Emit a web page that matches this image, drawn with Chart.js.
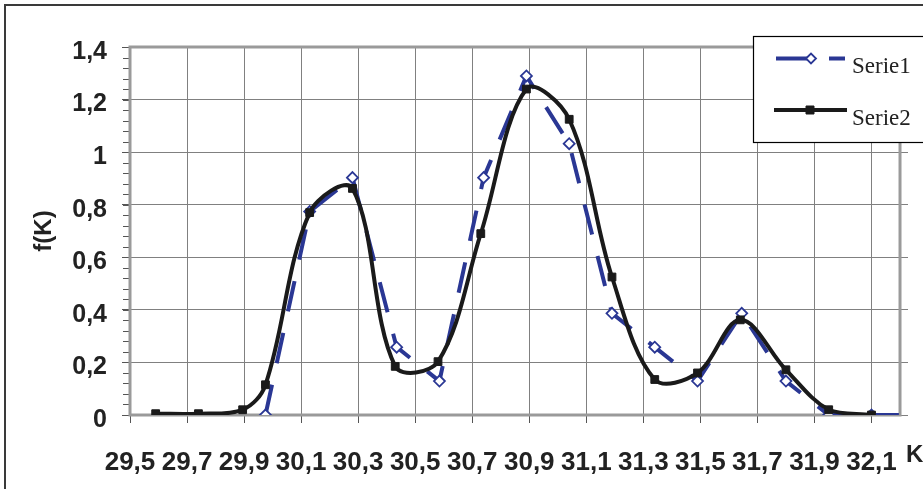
<!DOCTYPE html>
<html>
<head>
<meta charset="utf-8">
<script src="https://cdn.jsdelivr.net/npm/chart.js@4.4.0/dist/chart.umd.min.js"></script>
<style>
  html, body { margin: 0; padding: 0; background: #fff; }
</style>
</head>
<body>
<canvas id="grafico" width="923" height="489"></canvas>
<script>
// ================================
// Dados
// ================================
const nomesSeries = ["Serie1", "Serie2"]

const serie1X = [29.975, 30.13, 30.28, 30.435, 30.585, 30.74, 30.89, 31.04, 31.19, 31.34, 31.49, 31.645, 31.8, 31.95, 32.1, 32.25]
const serie1Y = [0, 0.774, 0.903, 0.258, 0.129, 0.903, 1.29, 1.032, 0.387, 0.258, 0.129, 0.387, 0.129, 0, 0, 0]

const serie2X = [29.59, 29.74, 29.895, 29.975, 30.13, 30.28, 30.43, 30.58, 30.73, 30.89, 31.04, 31.19, 31.34, 31.49, 31.64, 31.8, 31.95, 32.1]
const serie2Y = [0.005, 0.005, 0.02, 0.115, 0.77, 0.862, 0.185, 0.203, 0.69, 1.24, 1.125, 0.525, 0.135, 0.16, 0.362, 0.172, 0.02, 0]

const xTicks = [29.5, 29.7, 29.9, 30.1, 30.3, 30.5, 30.7, 30.9, 31.1, 31.3, 31.5, 31.7, 31.9, 32.1]
const yTicks = [0, 0.2, 0.4, 0.6, 0.8, 1, 1.2, 1.4]

// limites dos eixos
const xMin = 29.5
const xBorda = 32.2
const xMax = 32.228
const yMin = 0
const yMax = 1.4

// ================================
// Estilo
// ================================
const azul = "#2a3794"
const preto = "#1a1a1a"
const fonteSans = "'Liberation Sans', Arial, sans-serif"
const fonteSerif = "'Liberation Serif', 'Times New Roman', serif"
const virgula = (v) => String(v).replace(".", ",")

// ================================
// Plugins de desenho
// ================================
const molduraPlugin = {
  id: "moldura",
  beforeDraw(chart) {
    const ctx = chart.ctx
    ctx.save()
    ctx.fillStyle = "#fff"
    ctx.fillRect(0, 0, chart.width, chart.height)
    ctx.strokeStyle = "#3a3a3a"
    ctx.lineWidth = 2
    ctx.strokeRect(5, 5, chart.width + 20, chart.height + 20)
    ctx.restore()
  },
  beforeDatasetsDraw(chart) {
    const ctx = chart.ctx
    const x = chart.scales.x
    const y = chart.scales.y
    const esq = x.getPixelForValue(xMin)
    const dir = x.getPixelForValue(xBorda)
    const topo = y.getPixelForValue(yMax)
    const base = y.getPixelForValue(yMin)
    ctx.save()
    // marcas menores do eixo y
    ctx.strokeStyle = "#555"
    ctx.lineWidth = 1
    ctx.beginPath()
    for (let v = yMin; v <= yMax + 1e-9; v += 0.04) {
      const py = Math.round(y.getPixelForValue(v)) + 0.5
      ctx.moveTo(esq - 7, py)
      ctx.lineTo(esq, py)
    }
    ctx.stroke()
    // borda da area de plotagem
    ctx.strokeStyle = "#9a9a9a"
    ctx.lineWidth = 3
    ctx.strokeRect(esq, topo, dir - esq, base - topo)
    ctx.restore()
  },
  afterDraw(chart) {
    const ctx = chart.ctx
    ctx.save()
    // rotulo K no fim do eixo x
    ctx.fillStyle = "#222"
    ctx.font = "bold 24px " + fonteSans
    ctx.textAlign = "left"
    ctx.textBaseline = "alphabetic"
    ctx.fillText("K", 906, 462)

    // legenda
    ctx.fillStyle = "#fff"
    ctx.strokeStyle = "#000"
    ctx.lineWidth = 1.2
    ctx.fillRect(753.5, 36.5, 220, 106)
    ctx.strokeRect(753.5, 36.5, 220, 106)

    const linhas = [
      { y: 58.5, x0: 776, x1: 845, xm: 811, ty: 73 },
      { y: 110, x0: 774, x1: 847, xm: 810, ty: 125 },
    ]
    chart.data.datasets.forEach((ds, i) => {
      const l = linhas[i]
      ctx.save()
      ctx.strokeStyle = ds.borderColor
      ctx.lineWidth = ds.borderWidth
      ctx.setLineDash(ds.borderDash || [])
      ctx.beginPath()
      ctx.moveTo(l.x0, l.y)
      ctx.lineTo(l.x1, l.y)
      ctx.stroke()
      ctx.setLineDash([])
      ctx.fillStyle = ds.pointBackgroundColor
      ctx.strokeStyle = ds.pointBorderColor
      ctx.lineWidth = ds.pointBorderWidth
      ctx.beginPath()
      if (ds.pointStyle === "rectRot") {
        ctx.moveTo(l.xm - 5, l.y)
        ctx.lineTo(l.xm, l.y - 5)
        ctx.lineTo(l.xm + 5, l.y)
        ctx.lineTo(l.xm, l.y + 5)
        ctx.closePath()
      } else {
        ctx.rect(l.xm - 4, l.y - 4, 8, 8)
      }
      ctx.fill()
      ctx.stroke()
      ctx.fillStyle = "#222"
      ctx.font = "23px " + fonteSerif
      ctx.textAlign = "left"
      ctx.textBaseline = "alphabetic"
      ctx.fillText(ds.label, 852, l.ty)
      ctx.restore()
    })
    ctx.restore()
  },
}

// ================================
// Grafico
// ================================
const ctx = document.getElementById("grafico").getContext("2d")

new Chart(ctx, {
  type: "line",
  data: {
    datasets: [
      {
        label: nomesSeries[0],
        data: serie1X.map((x, i) => ({ x: x, y: serie1Y[i] })),
        borderColor: azul,
        borderWidth: 4,
        borderDash: [31, 22],
        borderCapStyle: "butt",
        tension: 0,
        pointStyle: "rectRot",
        pointRadius: (c) => (c.dataIndex === serie1X.length - 1 ? 0 : 5.5),
        pointBackgroundColor: "#fff",
        pointBorderColor: azul,
        pointBorderWidth: 1.8,
        order: 1,
      },
      {
        label: nomesSeries[1],
        data: serie2X.map((x, i) => ({ x: x, y: serie2Y[i] })),
        borderColor: preto,
        borderWidth: 4,
        tension: 0.35,
        pointStyle: "rect",
        pointRadius: 5.5,
        pointBackgroundColor: preto,
        pointBorderColor: preto,
        pointBorderWidth: 1,
        order: 0,
      },
    ],
  },
  options: {
    responsive: false,
    animation: false,
    layout: { padding: { left: 0, top: 47, right: 15, bottom: 0 } },
    plugins: {
      legend: { display: false },
      tooltip: { enabled: false },
    },
    scales: {
      x: {
        type: "linear",
        min: xMin,
        max: xMax,
        afterBuildTicks: (s) => {
          s.ticks = xTicks.map((v) => ({ value: v }))
        },
        afterFit: (s) => {
          s.height = 74
        },
        border: { display: false },
        grid: { color: "#808080", lineWidth: 1, tickLength: 8, tickColor: "#555" },
        ticks: {
          autoSkip: false,
          maxRotation: 0,
          padding: 24,
          color: "#222",
          font: { family: fonteSans, size: 26, weight: "bold" },
          callback: (v) => virgula(v),
        },
      },
      y: {
        min: yMin,
        max: yMax,
        afterBuildTicks: (s) => {
          s.ticks = yTicks.map((v) => ({ value: v }))
        },
        afterFit: (s) => {
          s.width = 130
        },
        border: { display: false },
        grid: { color: "#808080", lineWidth: 1, tickLength: 8, tickColor: "#555" },
        title: {
          display: true,
          text: "f(K)",
          color: "#222",
          font: { family: fonteSans, size: 24, weight: "bold" },
          padding: { top: 30, bottom: 0 },
        },
        ticks: {
          padding: 15,
          labelOffset: 5,
          color: "#222",
          font: { family: fonteSans, size: 25, weight: "bold" },
          callback: (v) => virgula(v),
        },
      },
    },
  },
  plugins: [molduraPlugin],
})
</script>
</body>
</html>
